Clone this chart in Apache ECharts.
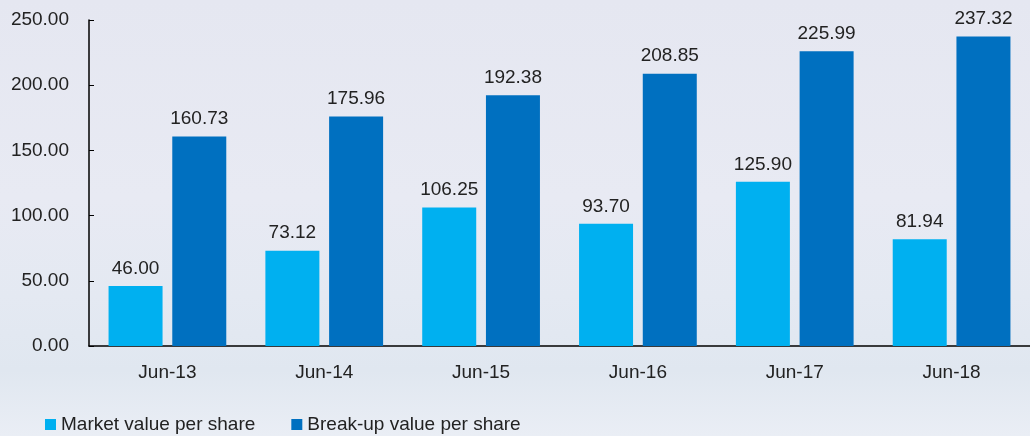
<!DOCTYPE html>
<html>
<head>
<meta charset="utf-8">
<script src="https://cdn.jsdelivr.net/npm/echarts@6/dist/echarts.min.js"></script>
<style>
  html, body { margin: 0; padding: 0; }
  #chart {
    width: 1030px; height: 436px;
    background: linear-gradient(180deg, #e5e7f1 0%, #e8eaf3 45%, #e4e9f2 68%, #e0e7f0 85%, #eaeef5 100%);
  }
</style>
</head>
<body>
<div id="chart"></div>
<script>
// 数据
var categories = ['Jun-13', 'Jun-14', 'Jun-15', 'Jun-16', 'Jun-17', 'Jun-18'];
var marketValue = [46.00, 73.12, 106.25, 93.70, 125.90, 81.94];
var breakupValue = [160.73, 175.96, 192.38, 208.85, 225.99, 237.32];
var seriesNames = ['Market value per share', 'Break-up value per share'];

var font = 'Liberation Sans, Arial, sans-serif';
var fs = 19;
var myChart = echarts.init(document.getElementById('chart'));
myChart.setOption({
    textStyle: { fontFamily: font },
    animation: false,
    legend: {
        data: seriesNames,
        left: 40,
        top: 410,
        icon: 'rect',
        itemWidth: 11,
        itemHeight: 11,
        itemGap: 36,
        textStyle: { fontSize: fs, color: '#222', fontFamily: font }
    },
    grid: { left: 89, top: 20, width: 948, height: 326 },
    xAxis: {
        type: 'category',
        data: categories,
        axisLine: { lineStyle: { color: '#000', width: 1.5 } },
        axisTick: { inside: true, length: 5, lineStyle: { color: '#000' } },
        axisLabel: { fontSize: fs, color: '#222', margin: 17 }
    },
    yAxis: {
        type: 'value',
        min: 0, max: 250, interval: 50,
        splitLine: { show: false },
        axisLine: { show: true, lineStyle: { color: '#000', width: 1.5 } },
        axisTick: { show: true, inside: true, length: 5, lineStyle: { color: '#000' } },
        axisLabel: {
            fontSize: fs, color: '#222', margin: 20,
            formatter: function (v) { return v.toFixed(2); }
        }
    },
    series: [
        {
            name: seriesNames[0],
            type: 'bar',
            data: marketValue,
            barWidth: 54,
            barGap: '18%',
            itemStyle: { color: '#00b0f0' },
            label: {
                show: true, position: 'top', distance: 8,
                fontSize: fs, color: '#222',
                formatter: function (p) { return p.value.toFixed(2); }
            }
        },
        {
            name: seriesNames[1],
            type: 'bar',
            data: breakupValue,
            barWidth: 54,
            itemStyle: { color: '#0070c0' },
            label: {
                show: true, position: 'top', distance: 8,
                fontSize: fs, color: '#222',
                formatter: function (p) { return p.value.toFixed(2); }
            }
        }
    ]
});
</script>
</body>
</html>
